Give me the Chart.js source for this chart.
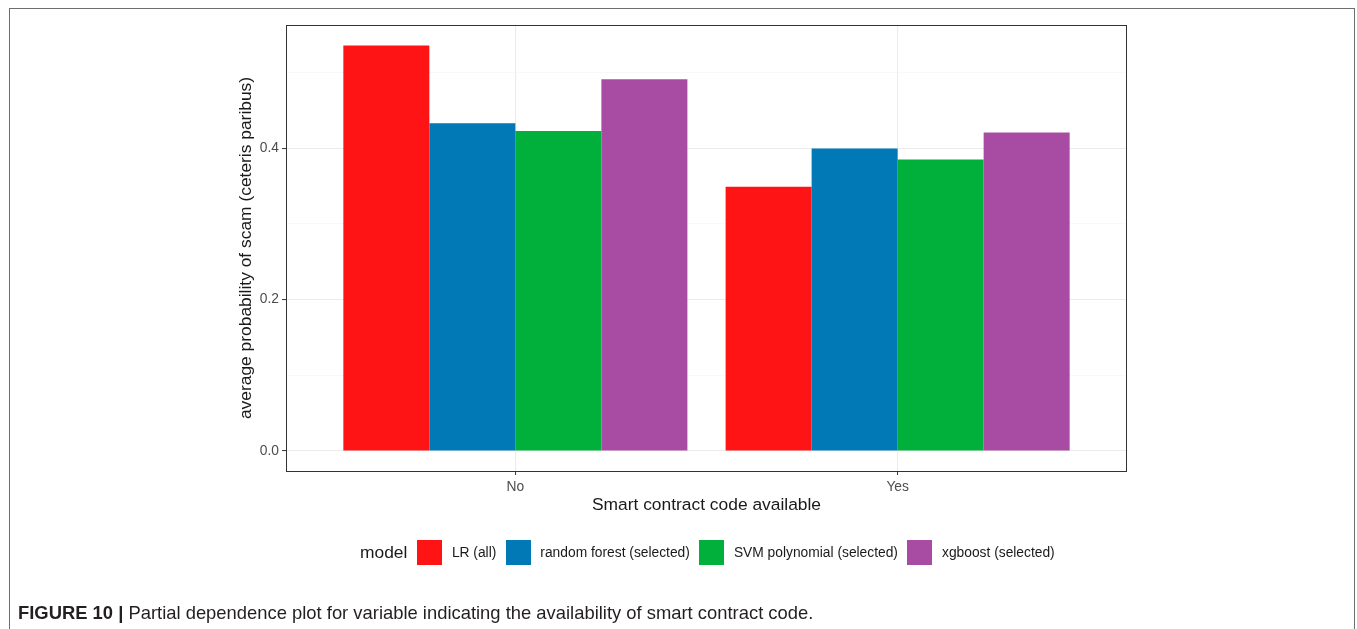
<!DOCTYPE html>
<html>
<head>
<meta charset="utf-8">
<script src="https://cdn.jsdelivr.net/npm/chart.js@4.4.1/dist/chart.umd.min.js"></script>
<style>
  html, body { margin: 0; padding: 0; background: #fff; }
  body { width: 1357px; height: 629px; position: relative; overflow: hidden; font-family: "Liberation Sans", Arial, sans-serif; }
  .frame { position: absolute; left: 9px; top: 8px; width: 1344px; height: 660px; border: 1px solid #6e6e6e; }
  .chart_box { position: absolute; left: 0; top: 0; width: 1357px; height: 629px; }
  .legend { position: absolute; left: 360px; top: 540px; height: 25px; display: flex; align-items: center; color: #1a1a1a; }
  .legend .title { font-size: 17.4px; margin-right: 10px; }
  .legend .key { width: 25px; height: 25px; }
  .legend .lab { font-size: 13.8px; margin-left: 9.5px; margin-right: 9.5px; }
  .caption { position: absolute; left: 18px; top: 602px; font-size: 18.4px; color: #231f20; white-space: nowrap; }
  .caption b { font-weight: bold; }
</style>
</head>
<body>
<div class="frame"></div>
<div class="chart_box"><canvas id="myChart" width="1357" height="629"></canvas></div>
<div class="legend"></div>
<div class="caption"><b>FIGURE 10 |</b> Partial dependence plot for variable indicating the availability of smart contract code.</div>
<script>
const categories = ['No', 'Yes'];
const models = ['LR (all)', 'random forest (selected)', 'SVM polynomial (selected)', 'xgboost (selected)'];
const colors = ['#FF1416', '#0079B6', '#00B03B', '#A84CA3'];
const lr_all = [0.5355, 0.349];
const random_forest = [0.433, 0.3995];
const svm_poly = [0.4228, 0.385];
const xgboost = [0.491, 0.4206];
const y_ticks = [0, 0.1, 0.2, 0.3, 0.4, 0.5];
const y_labels = [0, 0.2, 0.4];

const series = [lr_all, random_forest, svm_poly, xgboost];

const isMajor = v => y_labels.some(t => Math.abs(t - v) < 1e-9);

const panelBorder = {
    id: 'panelBorder',
    afterDraw(chart) {
        const { ctx, chartArea: a } = chart;
        ctx.save();
        ctx.strokeStyle = '#333333';
        ctx.lineWidth = 1;
        ctx.strokeRect(a.left + 0.5, a.top + 0.5, a.right - a.left - 1, a.bottom - a.top);
        ctx.restore();
    }
};

const ctx = document.getElementById('myChart').getContext('2d');
const myChart = new Chart(ctx, {
    type: 'bar',
    data: {
        datasets: series.map((vals, i) => ({
            label: models[i],
            data: categories.map((c, j) => ({ x: j + 1, y: vals[j] })),
            backgroundColor: colors[i],
            borderWidth: 0,
            barPercentage: 1,
            categoryPercentage: 0.9
        }))
    },
    options: {
        responsive: false,
        animation: false,
        layout: { padding: { left: 230, top: 25, right: 230, bottom: 113 } },
        plugins: { legend: { display: false }, tooltip: { enabled: false } },
        scales: {
            x: {
                type: 'linear',
                min: 0.4,
                max: 2.6,
                offset: false,
                afterBuildTicks: s => { s.ticks = categories.map((c, i) => ({ value: i + 1 })); },
                afterFit: s => { s.height = 45; },
                ticks: {
                    callback: v => categories[Math.round(v) - 1],
                    color: '#4D4D4D',
                    font: { family: 'Liberation Sans', size: 13.8 },
                    padding: 4,
                    maxRotation: 0
                },
                grid: { offset: false, color: '#EBEBEB', lineWidth: 1.1, tickColor: '#333333', tickLength: 4, tickWidth: 1 },
                border: { display: false },
                title: {
                    display: true,
                    text: 'Smart contract code available',
                    color: '#1a1a1a',
                    font: { family: 'Liberation Sans', size: 17.4 },
                    padding: { top: 0, bottom: 0 }
                }
            },
            y: {
                min: -0.0265,
                max: 0.5627,
                afterBuildTicks: s => { s.ticks = y_ticks.map(v => ({ value: v })); },
                afterFit: s => { s.width = 56; },
                ticks: {
                    callback: v => isMajor(v) ? v.toFixed(1) : '',
                    color: '#4D4D4D',
                    font: { family: 'Liberation Sans', size: 13.8 },
                    padding: 3
                },
                grid: {
                    color: c => isMajor(c.tick.value) ? '#EBEBEB' : '#F3F3F3',
                    lineWidth: c => isMajor(c.tick.value) ? 1.1 : 0.6,
                    tickColor: c => isMajor(c.tick.value) ? '#333333' : 'rgba(0,0,0,0)',
                    tickLength: 4,
                    tickWidth: 1
                },
                border: { display: false },
                title: {
                    display: true,
                    text: 'average probability of scam (ceteris paribus)',
                    color: '#1a1a1a',
                    font: { family: 'Liberation Sans', size: 17.4 },
                    padding: { top: 6, bottom: 0 }
                }
            }
        }
    },
    plugins: [panelBorder]
});

// legend in ggplot style: title on the left, keys in one row
const legend = document.querySelector('.legend');
legend.innerHTML = '<span class="title">model</span>' +
    models.map((m, i) => `<span class="key" style="background:${colors[i]}"></span><span class="lab">${m}</span>`).join('');
</script>
</body>
</html>
